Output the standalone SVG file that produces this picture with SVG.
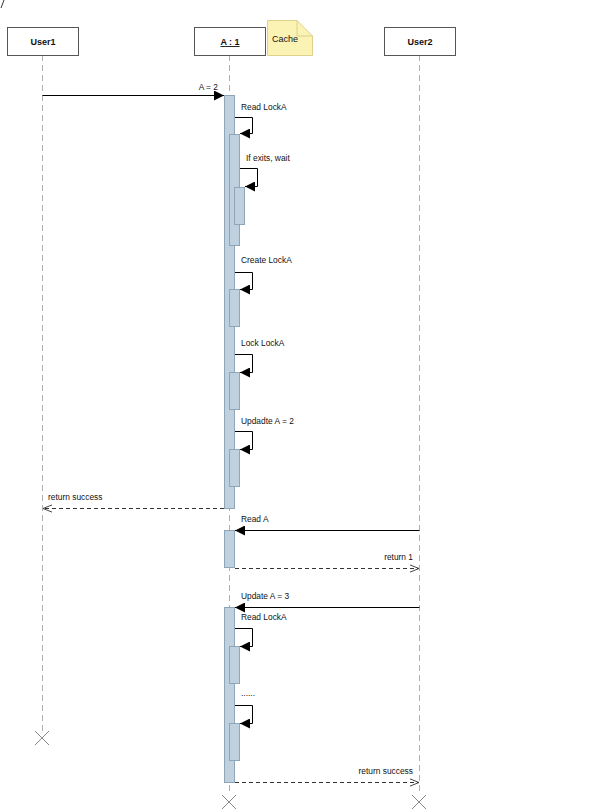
<svg xmlns="http://www.w3.org/2000/svg" width="600" height="810" viewBox="0 0 600 810">
<defs>
<style>
.t{font-family:"Liberation Sans",Arial,sans-serif;font-size:8.4px;fill:#111}
.h{font-family:"Liberation Sans",Arial,sans-serif;font-size:9px;font-weight:bold;fill:#111;text-anchor:middle}
.box{fill:#fff;stroke:#555;stroke-width:1}
.life{stroke:#b0b0b0;stroke-width:1;stroke-dasharray:6,4;fill:none}
.act{fill:#bfd0de;stroke:#8ea6b8;stroke-width:1}
.msg{stroke:#000;stroke-width:1;fill:none}
.ret{stroke:#333;stroke-width:1;stroke-dasharray:4,3;fill:none}
.x{stroke:#888;stroke-width:1}
</style>
<marker id="fa" viewBox="0 0 10 10" refX="10" refY="5" markerWidth="10" markerHeight="10" markerUnits="userSpaceOnUse" orient="auto">
<path d="M0,0 L10,5 L0,10 z" fill="#000"/>
</marker>
<marker id="oa" viewBox="0 0 10 10" refX="10" refY="5" markerWidth="9" markerHeight="9" markerUnits="userSpaceOnUse" orient="auto">
<path d="M0,1 L10,5 L0,9" fill="none" stroke="#444" stroke-width="1.1"/>
</marker>
</defs>
<rect width="600" height="810" fill="#fff"/>
<path d="M4,0 L1,8" stroke="#333" stroke-width="1"/>

<g id="lifelines">
<line class="life" x1="42.5" y1="55" x2="42.5" y2="731"/>
<line class="life" x1="229.5" y1="55" x2="229.5" y2="795"/>
<line class="life" x1="419.5" y1="55" x2="419.5" y2="795"/>
</g>

<g id="User1">
<rect class="box" x="7.5" y="27.5" width="71" height="28"/>
<text class="h" x="43" y="45">User1</text>
<path class="x" d="M35,731 L49,745 M49,731 L35,745"/>
</g>
<g id="A1">
<rect class="box" x="194.5" y="27.5" width="71" height="28"/>
<text class="h" x="230" y="45" text-decoration="underline">A : 1</text>
<path class="x" d="M222,795 L236,809 M236,795 L222,809"/>
</g>
<g id="Cache">
<path d="M267.5,20.5 H297 L312.5,36 V55.5 H267.5 Z" fill="#fbf3b4" stroke="#ddd08a"/>
<path d="M297,20.5 V36 H312.5" fill="none" stroke="#ddd08a"/>
<text class="t" x="272" y="42" style="font-size:9px">Cache</text>
</g>
<g id="User2">
<rect class="box" x="384.5" y="27.5" width="71" height="28"/>
<text class="h" x="420" y="45">User2</text>
<path class="x" d="M412,795 L426,809 M426,795 L412,809"/>
</g>

<g id="activations">
<rect class="act" x="224.5" y="95.5" width="10" height="413"/>
<rect class="act" x="229.5" y="134.5" width="10" height="111"/>
<rect class="act" x="234.5" y="187.5" width="10" height="37"/>
<rect class="act" x="229.5" y="289.5" width="10" height="37"/>
<rect class="act" x="229.5" y="372.5" width="10" height="37"/>
<rect class="act" x="229.5" y="449.5" width="10" height="37"/>
<rect class="act" x="224.5" y="530.5" width="10" height="37"/>
<rect class="act" x="224.5" y="607.5" width="10" height="175"/>
<rect class="act" x="229.5" y="646.5" width="10" height="37"/>
<rect class="act" x="229.5" y="723.5" width="10" height="37"/>
</g>

<g id="connectors">
<line class="msg" x1="42.5" y1="95.5" x2="224" y2="95.5" marker-end="url(#fa)"/>
<path class="msg" d="M235,117.5 H252.5 V133.5 H240" marker-end="url(#fa)"/>
<path class="msg" d="M240,168.5 H257.5 V186.5 H245" marker-end="url(#fa)"/>
<path class="msg" d="M235,272.5 H252.5 V289.5 H240" marker-end="url(#fa)"/>
<path class="msg" d="M235,354.5 H252.5 V372.5 H240" marker-end="url(#fa)"/>
<path class="msg" d="M235,431.5 H252.5 V449.5 H240" marker-end="url(#fa)"/>
<line class="ret" x1="224" y1="508.5" x2="43" y2="508.5" marker-end="url(#oa)"/>
<line class="msg" x1="419.5" y1="530.5" x2="235" y2="530.5" marker-end="url(#fa)"/>
<line class="ret" x1="235" y1="568.5" x2="419" y2="568.5" marker-end="url(#oa)"/>
<line class="msg" x1="419.5" y1="607.5" x2="235" y2="607.5" marker-end="url(#fa)"/>
<path class="msg" d="M235,628.5 H252.5 V646.5 H240" marker-end="url(#fa)"/>
<path class="msg" d="M235,705.5 H252.5 V723.5 H240" marker-end="url(#fa)"/>
<line class="ret" x1="235" y1="782.5" x2="419" y2="782.5" marker-end="url(#oa)"/>
</g>

<g id="labels">
<text class="t" x="218" y="90" text-anchor="end">A = 2</text>
<text class="t" x="241" y="110">Read LockA</text>
<text class="t" x="246" y="161">If exits, wait</text>
<text class="t" x="241" y="263">Create LockA</text>
<text class="t" x="241" y="346">Lock LockA</text>
<text class="t" x="241" y="424">Updadte A = 2</text>
<text class="t" x="48" y="500">return success</text>
<text class="t" x="241" y="522">Read A</text>
<text class="t" x="413" y="560" text-anchor="end">return 1</text>
<text class="t" x="241" y="599">Update A = 3</text>
<text class="t" x="241" y="620">Read LockA</text>
<text class="t" x="241" y="696">......</text>
<text class="t" x="413" y="774" text-anchor="end">return success</text>
</g>
</svg>
